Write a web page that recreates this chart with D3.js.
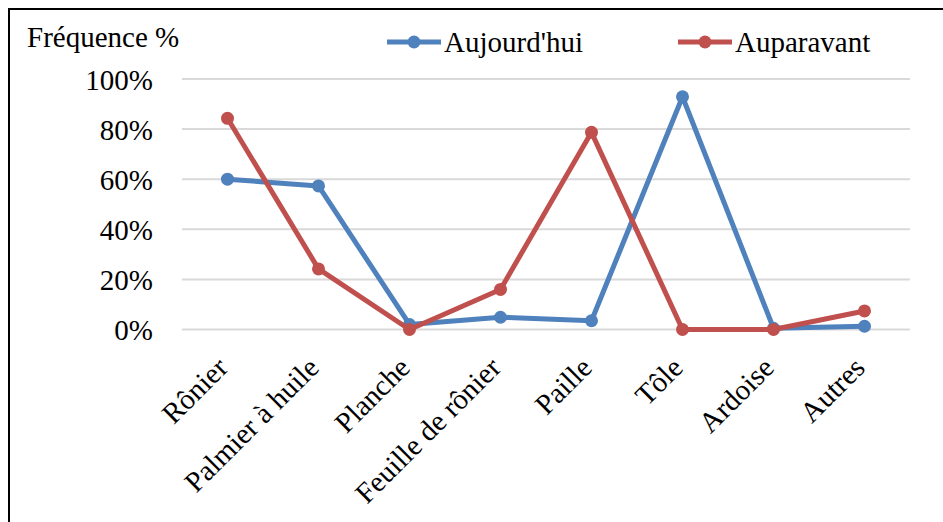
<!DOCTYPE html>
<html>
<head>
<meta charset="utf-8">
<script src="https://cdn.jsdelivr.net/npm/d3@7"></script>
<style>
  html, body { margin: 0; padding: 0; background: #fff; }
  svg { display: block; }
  text { font-family: "Liberation Serif", "Times New Roman", serif; fill: #000; }
</style>
</head>
<body>
<svg id="chart" width="943" height="522"></svg>
<script>
const categories = ["Rônier", "Palmier à huile", "Planche", "Feuille de rônier", "Paille", "Tôle", "Ardoise", "Autres"];
const aujourdhui = [60, 57.3, 2, 4.9, 3.5, 92.9, 0.5, 1.3];
const auparavant = [84.3, 24.2, 0, 16, 78.7, 0, 0, 7.4];
const yTicks = [0, 20, 40, 60, 80, 100];
const seriesNames = ["Aujourd'hui", "Auparavant"];
const seriesColors = ["#4F81BD", "#C0504D"];

const svg = d3.select("#chart");
const W = 943, H = 522;
const FS = 29;
const plot = { left: 182, right: 910, top: 79, bottom: 329.5 };

// frame (top + left edges)
svg.append("path")
  .attr("d", `M9,${H} L9,9 L${W},9`)
  .attr("fill", "none").attr("stroke", "#000").attr("stroke-width", 2);

const x = d3.scaleBand().domain(categories).range([plot.left, plot.right]);
const y = d3.scaleLinear().domain([0, 100]).range([plot.bottom, plot.top]);
const cx = c => x(c) + x.bandwidth() / 2;

// gridlines
svg.append("g").selectAll("line").data(yTicks).join("line")
  .attr("x1", plot.left).attr("x2", plot.right)
  .attr("y1", d => y(d)).attr("y2", d => y(d))
  .attr("stroke", "#D9D9D9").attr("stroke-width", 2);

// y axis labels
const yAxis = d3.axisLeft(y).tickValues(yTicks).tickFormat(d => d + "%").tickSize(0).tickPadding(29);
const gy = svg.append("g").attr("transform", `translate(${plot.left},0)`).call(yAxis);
gy.select(".domain").remove();
gy.selectAll("text").attr("font-size", FS).attr("font-family", "Liberation Serif, serif").attr("dy", "0.35em");

// x axis labels
const xAxis = d3.axisBottom(x).tickSize(0).tickPadding(0);
const gx = svg.append("g").attr("transform", `translate(0,${plot.bottom})`).call(xAxis);
gx.select(".domain").remove();
gx.selectAll("text")
  .attr("font-size", FS).attr("font-family", "Liberation Serif, serif")
  .attr("text-anchor", "end")
  .attr("dy", "0")
  .attr("transform", "translate(2,40) rotate(-45)");

// y title
svg.append("text").attr("x", 27).attr("y", 47).attr("font-size", FS).text("Fréquence %");

// lines
const series = [aujourdhui, auparavant];
const line = d3.line().x((d, i) => cx(categories[i])).y(d => y(d));
series.forEach((vals, si) => {
  const g = svg.append("g");
  g.append("path").datum(vals).attr("d", line)
    .attr("fill", "none").attr("stroke", seriesColors[si]).attr("stroke-width", 5)
    .attr("stroke-linejoin", "round");
  g.selectAll("circle").data(vals).join("circle")
    .attr("cx", (d, i) => cx(categories[i])).attr("cy", d => y(d))
    .attr("r", 6.5).attr("fill", seriesColors[si]);
});

// legend
const legendX = [387, 678];
seriesNames.forEach((name, i) => {
  const g = svg.append("g").attr("transform", `translate(${legendX[i]},42)`);
  g.append("line").attr("x1", 0).attr("x2", 54).attr("y1", 0).attr("y2", 0)
    .attr("stroke", seriesColors[i]).attr("stroke-width", 5);
  g.append("circle").attr("cx", 27).attr("cy", 0).attr("r", 6.5).attr("fill", seriesColors[i]);
  g.append("text").attr("x", 57).attr("y", 0).attr("dy", "0.35em").attr("font-size", FS).text(name);
});
</script>
</body>
</html>
